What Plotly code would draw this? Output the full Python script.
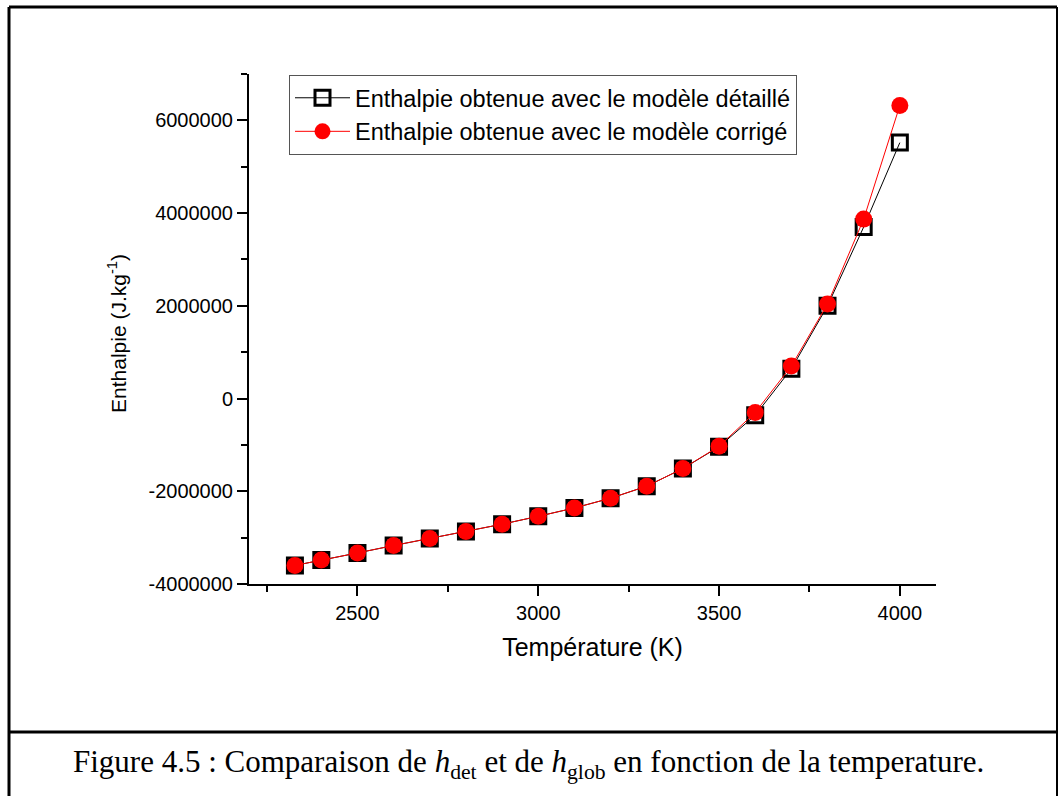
import plotly.graph_objects as go

# data (enthalpy in J/kg vs temperature in K)
temperature = [2327, 2400, 2500, 2600, 2700, 2800, 2900, 3000, 3100,
               3200, 3300, 3400, 3500, 3600, 3700, 3800, 3900, 4000]
h_detaille = [-3.60e6, -3.48e6, -3.33e6, -3.17e6, -3.02e6, -2.87e6, -2.71e6, -2.54e6, -2.36e6,
              -2.15e6, -1.89e6, -1.51e6, -1.04e6, -0.36e6, 0.64e6, 2.00e6, 3.70e6, 5.52e6]
h_corrige = [-3.60e6, -3.48e6, -3.33e6, -3.17e6, -3.02e6, -2.87e6, -2.71e6, -2.54e6, -2.36e6,
             -2.15e6, -1.89e6, -1.51e6, -1.03e6, -0.30e6, 0.70e6, 2.04e6, 3.87e6, 6.32e6]

x_ticks = [2500, 3000, 3500, 4000]
y_ticks = [-4000000, -2000000, 0, 2000000, 4000000, 6000000]
y_ticktext = ["-4000000", "-2000000", "0", "2000000", "4000000", "6000000"]

W, H = 1059, 796
L, R, T, B = 249, 936, 74, 584   # plot area in pixels


def px(p):
    return (p - L) / (R - L)


def py(p):
    return (B - p) / (B - T)


sans = "Liberation Sans, Arial, sans-serif"
serif = "Liberation Serif, Times New Roman, serif"

fig = go.Figure()

fig.add_trace(go.Scatter(
    x=temperature, y=h_detaille, mode="lines+markers",
    name="Enthalpie obtenue avec le modèle détaillé",
    line=dict(color="black", width=1),
    marker=dict(symbol="square-open", size=15, color="black", line=dict(width=3, color="black"))))

fig.add_trace(go.Scatter(
    x=temperature, y=h_corrige, mode="lines+markers",
    name="Enthalpie obtenue avec le modèle corrigé",
    line=dict(color="red", width=1),
    marker=dict(symbol="circle", size=17, color="red", line=dict(width=0))))

axis_common = dict(showline=True, linecolor="black", linewidth=2, mirror=False,
                   ticks="outside", ticklen=10, tickwidth=2, tickcolor="black",
                   showgrid=False, zeroline=False,
                   tickfont=dict(family=sans, size=20, color="black"))

fig.update_xaxes(range=[2200, 4100], tickvals=x_ticks,
                 minor=dict(dtick=250, tick0=2250, ticks="outside", ticklen=6, tickwidth=2, tickcolor="black"),
                 title=dict(text="Température (K)", font=dict(family=sans, size=25, color="black"), standoff=15),
                 **axis_common)
fig.update_yaxes(range=[-4000000, 7000000], tickvals=y_ticks, ticktext=y_ticktext,
                 minor=dict(dtick=1000000, ticks="outside", ticklen=6, tickwidth=2, tickcolor="black"),
                 **axis_common)

# page frame and caption separator
frame = dict(color="black", width=3)
shapes = [
    dict(type="line", xref="paper", yref="paper", x0=px(9), x1=px(9), y0=py(7), y1=py(800), line=frame),
    dict(type="line", xref="paper", yref="paper", x0=px(9), x1=px(1057), y0=py(7), y1=py(7), line=frame),
    dict(type="line", xref="paper", yref="paper", x0=px(1057), x1=px(1057), y0=py(7), y1=py(800),
         line=dict(color="black", width=2)),
    dict(type="line", xref="paper", yref="paper", x0=px(9), x1=px(1057), y0=py(732), y1=py(732), line=frame),
]

fig.update_layout(
    width=W, height=H,
    margin=dict(l=L, r=W - R, t=T, b=H - B),
    paper_bgcolor="white", plot_bgcolor="white",
    font=dict(family=sans, color="black"),
    shapes=shapes,
    legend=dict(x=px(289), y=py(75), xanchor="left", yanchor="top",
                bgcolor="white", bordercolor="#555", borderwidth=1,
                font=dict(family=sans, size=23.5, color="black"),
                itemwidth=55, tracegroupgap=0),
    annotations=[
        dict(text="Enthalpie (J.kg<sup>-1</sup>)", textangle=-90,
             xref="paper", yref="paper", x=px(117), y=py(334), xanchor="center", yanchor="middle",
             showarrow=False, font=dict(family=sans, size=21, color="black")),
        dict(text="Figure 4.5 : Comparaison de <i>h</i><sub>det</sub> et de <i>h</i><sub>glob</sub> en fonction de la temperature.",
             xref="paper", yref="paper", x=px(528), y=py(764), xanchor="center", yanchor="middle",
             showarrow=False, font=dict(family=serif, size=31, color="black")),
    ],
)

fig.write_html("out.html", config={"displayModeBar": False},
               post_script="document.body.style.margin='0';document.body.style.overflow='hidden';")
